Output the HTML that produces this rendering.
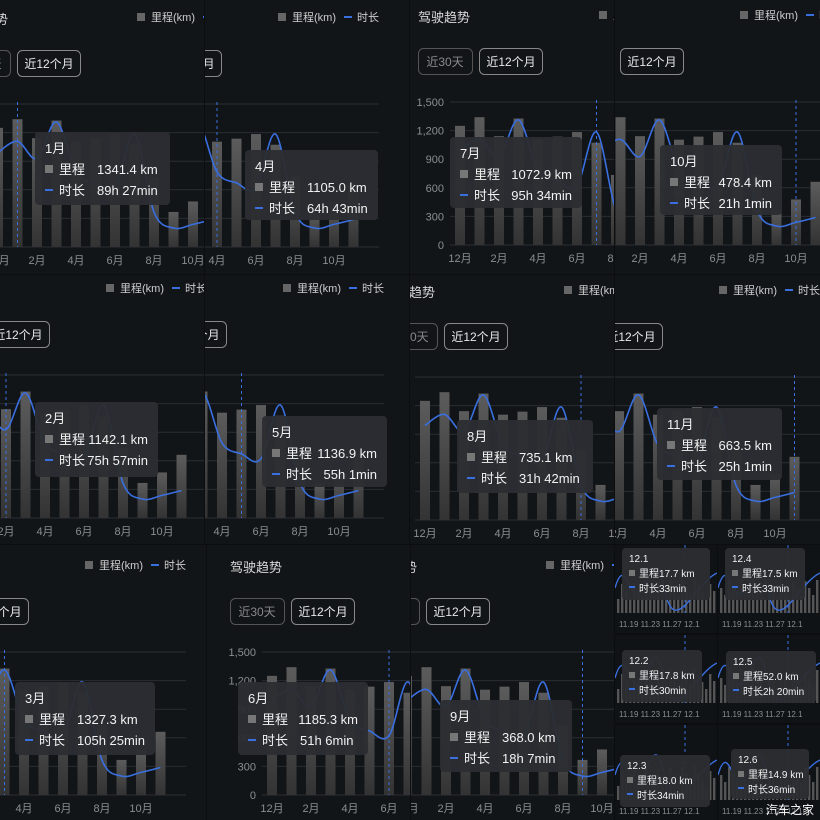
<!DOCTYPE html>
<html><head><meta charset="utf-8">
<style>
html,body{margin:0;padding:0;background:#0b0d0f;}
#root{position:relative;width:820px;height:820px;overflow:hidden;background:#0b0d0f;font-family:"Liberation Sans","Noto Sans CJK SC",sans-serif;}
.p{position:absolute;overflow:hidden;background:#121518;}
.tt{position:absolute;background:rgba(44,46,50,0.96);border-radius:4px;color:#f2f2f2;font-size:13px;line-height:21px;padding:6px 10px;box-sizing:border-box;white-space:nowrap;}
.tt .r{display:flex;}
.tt .k{width:52px;}
.sq{display:inline-block;width:8px;height:8px;background:#777;margin-right:6px;vertical-align:1px;}
.ln{display:inline-block;width:8px;height:2px;background:#3a6fe0;margin-right:6px;vertical-align:4px;}
.st{font-size:10px;line-height:15px;padding:4px 7px;}
.st .k{width:30px;}
.st .sq{width:6px;height:6px;margin-right:4px}
.st .ln{width:6px;margin-right:4px}
</style></head><body><div id="root"></div>
<script>
const root=document.getElementById('root');
const months=['12月','1月','2月','3月','4月','5月','6月','7月','8月','9月','10月','11月'];
const km=[1250,1341,1142,1327,1105,1137,1185,1073,735,368,478,663];
const hrs=[80,89,75,105,64,55,51,95,31,18,21,25];
function bx(i){return 50+i*19.5;}
function yk(v){return 245-v*0.0953;}
function yh(h){return Math.min(245,248-h*1.22);}
function curve(){
 const pts=hrs.map((h,i)=>[bx(i),yh(h)]);
 let d='M'+pts[0][0]+','+pts[0][1];
 for(let i=0;i<pts.length-1;i++){
  const p0=pts[Math.max(0,i-1)],p1=pts[i],p2=pts[i+1],p3=pts[Math.min(pts.length-1,i+2)];
  const c1=[p1[0]+(p2[0]-p0[0])/6,p1[1]+(p2[1]-p0[1])/6];
  const c2=[p2[0]-(p3[0]-p1[0])/6,p2[1]-(p3[1]-p1[1])/6];
  d+=` C${c1[0]},${c1[1]} ${c2[0]},${c2[1]} ${p2[0]},${p2[1]}`;
 }
 return d;
}
const CUR=curve();
function chart(hl){
 let s='';
 s+=`<text x="8" y="22" fill="#d8d8d8" font-size="13">驾驶趋势</text>`;
 s+=`<rect x="8.5" y="48.5" width="54" height="26" rx="5" fill="none" stroke="#555"/><text x="35" y="66" fill="#888" font-size="12" text-anchor="middle">近30天</text>`;
 s+=`<rect x="69.5" y="48.5" width="63" height="26" rx="5" fill="none" stroke="#888"/><text x="101" y="66" fill="#e8e8e8" font-size="12" text-anchor="middle">近12个月</text>`;
 s+=`<rect x="189" y="11" width="8" height="8" fill="#666"/><text x="203" y="19" fill="#ccc" font-size="11">里程(km)</text>`;
 s+=`<line x1="255" y1="15" x2="263" y2="15" stroke="#3a6fe0" stroke-width="2"/><text x="268" y="19" fill="#ccc" font-size="11">时长</text>`;
 const yl=['0','300','600','900','1,200','1,500'];
 for(let k=0;k<6;k++){const y=245-k*28.6;
  s+=`<line x1="40" y1="${y}" x2="290" y2="${y}" stroke="#2a2e33" stroke-width="1"/>`;
  s+=`<text x="34" y="${y+4}" fill="#8a8e93" font-size="11" text-anchor="end">${yl[k]}</text>`;}
 for(let i=0;i<12;i++){const x=bx(i),y=yk(km[i]);
  s+=`<rect x="${x-5}" y="${y}" width="10" height="${245-y}" fill="url(#bg)"/>`;
  if(i%2==0) s+=`<text x="${x}" y="262" fill="#8a8e93" font-size="11" text-anchor="middle">${months[i]}</text>`;}
 s+=`<line x1="${bx(hl)}" y1="100" x2="${bx(hl)}" y2="245" stroke="#3a6fe0" stroke-dasharray="3,3" stroke-width="1"/>`;
 s+=`<path d="${CUR}" fill="none" stroke="#3a6fe0" stroke-width="1.6"/>`;
 return s;
}
const defs=`<defs><linearGradient id="bg" x1="0" y1="0" x2="0" y2="1"><stop offset="0" stop-color="#5c5c5c"/><stop offset="1" stop-color="#333"/></linearGradient></defs>`;
function tip(x,y,w,h,m,a,b,small){
 return `<div class="tt${small?' st':''}" style="left:${x}px;top:${y}px;width:${w}px;height:${h}px"><div>${m}</div><div class="r"><span class="k"><span class="sq"></span>里程</span><span>${a}</span></div><div class="r"><span class="k"><span class="ln"></span>时长</span><span>${b}</span></div></div>`;
}
function panel(x,y,w,h,dx,dy,hl,t){
 let html=`<div class="p" style="left:${x}px;top:${y}px;width:${w}px;height:${h}px"><svg width="${w}" height="${h}" style="position:absolute;left:0;top:0">${defs}<g transform="translate(${dx},${dy})">${chart(hl)}</g></svg></div>`;
 html+=tip(...t);
 return html;
}
let H='';
H+=panel(0,0,204,274,-52,2,1,[35,132,135,73,'1月','1341.4 km','89h 27min']);
H+=panel(205,0,204,274,-116,2,4,[245,150,133,70,'4月','1105.0 km','64h 43min']);
H+=panel(410,0,204,274,0,0,7,[450,137,132,71,'7月','1072.9 km','95h 34min']);
H+=panel(615,0,205,274,-64,0,10,[660,145,122,70,'10月','478.4 km','21h 1min']);
H+=panel(0,275,204,269,-83,-2,2,[35,402,123,75,'2月','1142.1 km','75h 57min']);
H+=panel(205,275,204,269,-111,-2,5,[262,416,125,71,'5月','1136.9 km','55h 1min']);
H+=panel(410,275,204,269,-35,0,8,[457,420,136,73,'8月','735.1 km','31h 42min']);
H+=panel(615,275,205,269,-85,0,11,[657,408,125,72,'11月','663.5 km','25h 1min']);
H+=panel(0,545,206,275,-104,5,3,[15,682,140,73,'3月','1327.3 km','105h 25min']);
H+=panel(207,545,203,275,15,5,6,[238,682,130,73,'6月','1185.3 km','51h 6min']);
H+=panel(411,545,203,275,-54,5,9,[440,700,132,72,'9月','368.0 km','18h 7min']);
const tiles=[[615,545,102,88],[718,545,102,88],[615,635,102,88],[718,635,102,88],[615,725,102,95],[718,725,102,95]];
tiles.forEach((t,j)=>{
 let s=`<div class="p" style="left:${t[0]}px;top:${t[1]}px;width:${t[2]}px;height:${t[3]}px;background:#101316"><svg width="${t[2]}" height="${t[3]}">`;
 const base=t[3]-20;
 for(let i=0;i<26;i++){const hh=14+((i*37+j*11)%22);s+=`<rect x="${2+i*4}" y="${base-hh}" width="2.4" height="${hh}" fill="#555"/>`;}
 s+=`<line x1="${70}" y1="0" x2="70" y2="${base}" stroke="#3a6fe0" stroke-dasharray="3,3"/>`;
 s+=`<path d="M0,${base-25} C10,${base-60} 15,${base-10} 25,${base-20} S40,${base-70} 50,${base-22} S80,${base-30} 102,${base-40}" fill="none" stroke="#3a6fe0" stroke-width="1.4"/>`;
 s+=`<text x="4" y="${base+14}" fill="#8a8e93" font-size="8">11.19   11.23   11.27   12.1</text></svg></div>`;
 H+=s;
});
H+=tip(622,548,88,52,'12.1','17.7 km','33min',1);
H+=tip(725,548,80,52,'12.4','17.5 km','33min',1);
H+=tip(622,650,80,52,'12.2','17.8 km','30min',1);
H+=tip(726,651,90,52,'12.5','52.0 km','2h 20min',1);
H+=tip(620,755,90,52,'12.3','18.0 km','34min',1);
H+=tip(731,749,78,50,'12.6','14.9 km','36min',1);
H+=`<div style="position:absolute;left:766px;top:801px;color:#fff;font-size:12px">汽车之家</div>`;
root.innerHTML=H;
</script></body></html>
